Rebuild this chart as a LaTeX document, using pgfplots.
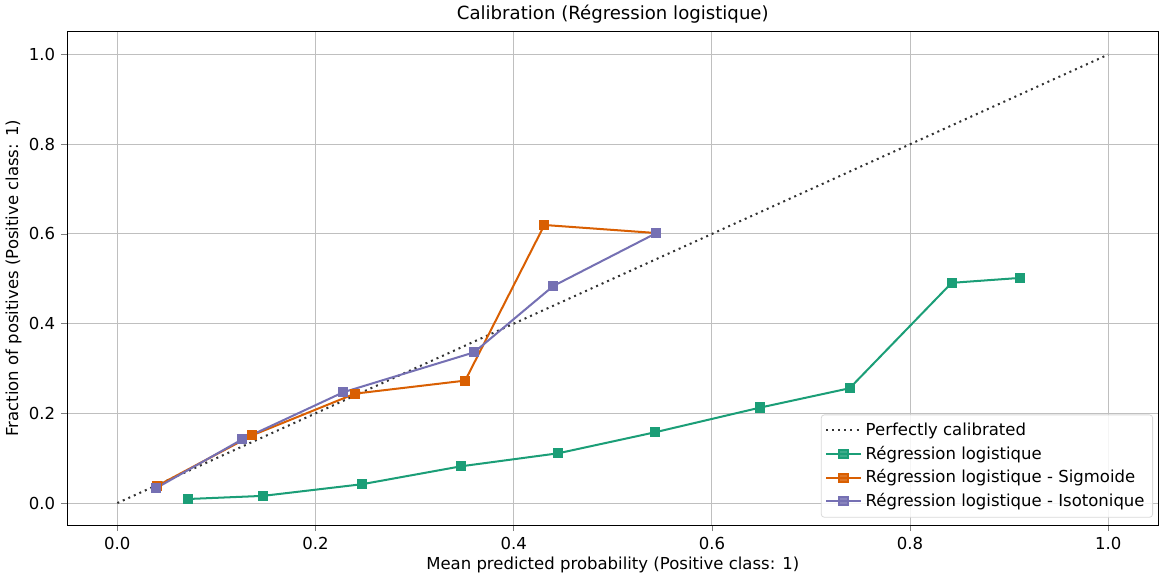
\documentclass[border=0pt]{standalone}
\usepackage{pgfplots}
\pgfplotsset{compat=1.18}
\usepackage{fontspec}
\setmainfont{DejaVu Sans}
\definecolor{cgreen}{HTML}{1B9E77}
\definecolor{corange}{HTML}{D95F02}
\definecolor{cpurple}{HTML}{7570B3}
\begin{document}
\fontsize{8.2}{9.8}\selectfont
\begin{tikzpicture}
\begin{axis}[
  scale only axis,
  width=542pt, height=245pt,
  xmin=-0.0507, xmax=1.0507,
  ymin=-0.049, ymax=1.051,
  xtick={0,0.2,0.4,0.6,0.8,1.0},
  ytick={0,0.2,0.4,0.6,0.8,1.0},
  xticklabel style={/pgf/number format/.cd,fixed,fixed zerofill,precision=1},
  yticklabel style={/pgf/number format/.cd,fixed,fixed zerofill,precision=1},
  /pgf/number format/assume math mode=true,
  tick label style={font=\fontsize{8.2}{9.8}\selectfont},
  label style={font=\fontsize{8.2}{9.8}\selectfont},
  tick align=outside, tick pos=left,
  major tick length=3pt,
  grid=major,
  grid style={gray!50, line width=0.5pt},
  axis line style={line width=0.5pt},
  title={Calibration (Régression logistique)},
  title style={font=\fontsize{9}{10.8}\selectfont, yshift=-5pt},
  xlabel={Mean predicted probability (Positive class: 1)},
  ylabel={Fraction of positives (Positive class: 1)},
  xlabel style={yshift=2pt},
  ylabel style={yshift=-2pt},
  legend pos=south east,
  legend cell align=left,
  legend style={font=\fontsize{8.2}{9.8}\selectfont, draw=gray!30, rounded corners=1.5pt, fill=white, fill opacity=0.85, text opacity=1, row sep=0pt, inner sep=2pt, at={(0.995,0.015)}},
  legend image post style={line width=1pt},
]
\addplot[black!80, dotted, line width=1pt] coordinates {(0,0) (1,1)};
\addlegendentry{Perfectly calibrated}
\addplot[cgreen, line width=1pt, mark=square*, mark size=2pt, mark options={solid}] coordinates {
(0.071,0.009) (0.147,0.016) (0.247,0.042) (0.347,0.082) (0.445,0.111)
(0.543,0.158) (0.649,0.213) (0.739,0.256) (0.842,0.491) (0.911,0.502)};
\addlegendentry{Régression logistique}
\addplot[corange, line width=1pt, mark=square*, mark size=2pt] coordinates {
(0.040,0.038) (0.136,0.151) (0.240,0.244) (0.351,0.273) (0.431,0.620) (0.544,0.602)};
\addlegendentry{Régression logistique - Sigmoide}
\addplot[cpurple, line width=1pt, mark=square*, mark size=2pt] coordinates {
(0.039,0.033) (0.126,0.142) (0.228,0.247) (0.360,0.336) (0.440,0.484) (0.544,0.602)};
\addlegendentry{Régression logistique - Isotonique}
\end{axis}
\end{tikzpicture}
\end{document}
